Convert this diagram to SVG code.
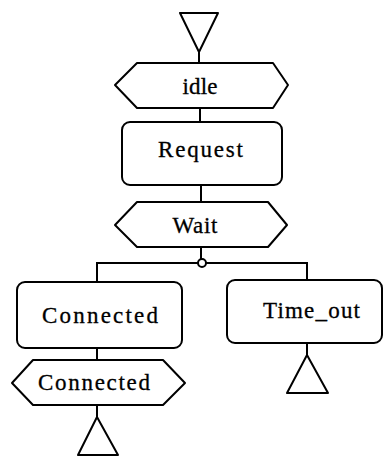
<svg xmlns="http://www.w3.org/2000/svg" width="383" height="457" viewBox="0 0 383 457">
<style>
.s{fill:#fff;stroke:#000;stroke-width:2;stroke-linejoin:round}
.c{fill:none;stroke:#000;stroke-width:2}
.t{font-family:"Liberation Serif","DejaVu Serif",serif;font-size:23px;fill:#000;stroke:#000;stroke-width:0.3;text-anchor:middle}
</style>
<rect width="383" height="457" fill="#fff"/>
<g id="connectors">
<line class="c" x1="199" y1="52" x2="199" y2="63"/>
<line class="c" x1="200" y1="108" x2="200" y2="122"/>
<line class="c" x1="201" y1="185" x2="201" y2="202"/>
<line class="c" x1="201" y1="247" x2="201" y2="259"/>
<polyline class="c" points="97,282 97,263 198,263"/>
<polyline class="c" points="206,263 307,263 307,280"/>
<circle class="s" cx="202" cy="263" r="4"/>
<line class="c" x1="97" y1="348" x2="97" y2="360"/>
<line class="c" x1="97" y1="405" x2="97" y2="417"/>
<line class="c" x1="307" y1="343" x2="307" y2="355"/>
</g>
<g id="start">
<polygon class="s" points="180,13 218,13 199,52"/>
</g>
<g id="idle">
<polygon class="s" points="115,85 137,63 273,63 288,85 273,108 137,108"/>
<text class="t" x="200" y="94" textLength="35" lengthAdjust="spacing">idle</text>
</g>
<g id="request">
<rect class="s" x="122" y="122" width="160" height="63" rx="8"/>
<text class="t" x="200.5" y="157" textLength="85" lengthAdjust="spacing">Request</text>
</g>
<g id="wait">
<polygon class="s" points="115,225 137,202 268,202 287,225 268,247 137,247"/>
<text class="t" x="195" y="233" textLength="45" lengthAdjust="spacing">Wait</text>
</g>
<g id="connected">
<rect class="s" x="17" y="282" width="165" height="66" rx="8"/>
<text class="t" x="100" y="323" textLength="116" lengthAdjust="spacing">Connected</text>
</g>
<g id="time_out">
<rect class="s" x="227" y="280" width="155" height="63" rx="8"/>
<text class="t" x="311.5" y="318" textLength="97" lengthAdjust="spacing">Time_out</text>
</g>
<g id="connected_out">
<polygon class="s" points="12,383 33,360 163,360 185,383 163,405 33,405"/>
<text class="t" x="94" y="390" textLength="112" lengthAdjust="spacing">Connected</text>
</g>
<g id="end_connected">
<polygon class="s" points="97,417 78,455 118,455"/>
</g>
<g id="end_time_out">
<polygon class="s" points="307,355 287,393 328,393"/>
</g>
</svg>
